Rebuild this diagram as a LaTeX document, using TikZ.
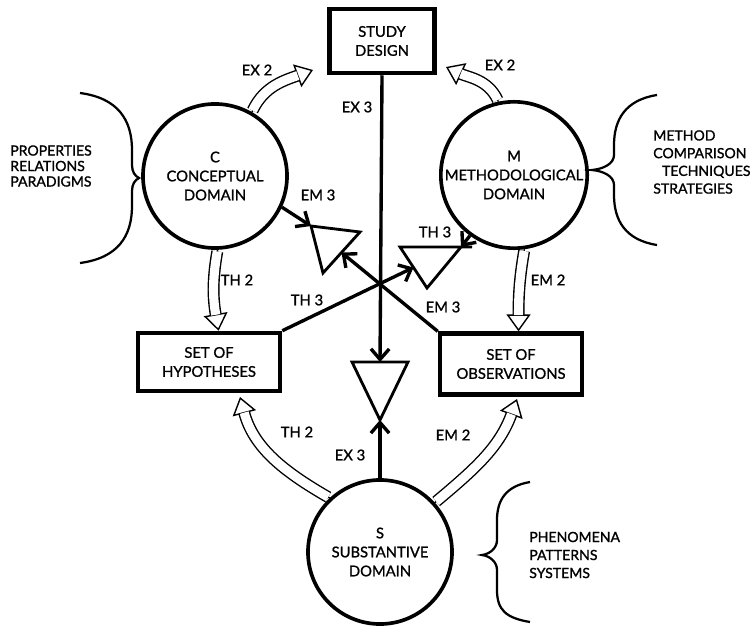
\documentclass[tikz,border=0pt]{standalone}
\usepackage{fontspec}
\setmainfont{Lato}[FakeBold=1.2]
\usetikzlibrary{arrows.meta}
\begin{document}
\begin{tikzpicture}[x=0.025cm, y=-0.025cm, font=\fontsize{10.5}{13.5}\selectfont]
		% Styles
		\tikzstyle{dom} = [circle, minimum size=3.6cm, inner sep=0pt, align=center, draw=black, line width=2.6pt]
		\tikzstyle{box} = [rectangle, align=center, draw=black, line width=3.2pt, inner sep=0pt]
		\tikzstyle{lbl} = [inner sep=1pt]
		\tikzstyle{side} = [anchor=west, align=left, inner sep=0pt, font=\fontsize{10}{11}\selectfont]
		\tikzstyle{arrow} = [line width=2.4pt, -{Straight Barb[length=7.5pt, width=13pt]}]
		\tikzstyle{tri} = [line width=2pt, line join=miter]
		\tikzstyle{hollow} = [line width=1pt, -{Triangle[open, fill=white, length=12pt, width=17pt]}, postaction={draw, -, double, double distance=6.5pt, shorten <=1.2pt, shorten >=11.5pt}]
		\tikzstyle{bracket} = [line width=1.6pt]
		\useasboundingbox (0,0) rectangle (753,629);
		% Nodes
		\node (design) [box, minimum width=2.62cm, minimum height=1.6cm] at (382,41) {STUDY\\DESIGN};
		\node (C) [dom] at (215,176) {C\\CONCEPTUAL\\DOMAIN};
		\node (M) [dom] at (514,175) {M\\METHODOLOGICAL\\DOMAIN};
		\node (S) [dom] at (380,552) {S\\SUBSTANTIVE\\DOMAIN};
		\node (hyp) [box, minimum width=3.55cm, minimum height=1.45cm] at (209,362) {SET OF\\HYPOTHESES};
		\node (obs) [box, minimum width=3.55cm, minimum height=1.52cm] at (511,364) {SET OF\\OBSERVATIONS};
		\node (concepts) [side] at (10,166) {PROPERTIES\\RELATIONS\\PARADIGMS};
		\node (methods) [side, font=\fontsize{10}{12.6}\selectfont] at (653,162) {METHOD\\COMPARISON\\\hspace*{0.22cm}TECHNIQUES\\STRATEGIES};
		\node (phenomena) [side, font=\fontsize{10}{12.8}\selectfont] at (529,555) {PHENOMENA\\PATTERNS\\SYSTEMS};
		% Junctions
		\coordinate (em1) at (311,226);
		\coordinate (em2) at (360,232);
		\coordinate (em3) at (323,273);
		\coordinate (emin) at (341.5,252.5);
		\coordinate (th1) at (400,247);
		\coordinate (th2) at (461,247);
		\coordinate (thx) at (472,247);
		\coordinate (th3) at (427,288);
		\coordinate (thin) at (413.5,267.5);
		\coordinate (ex1) at (352,362);
		\coordinate (ex2) at (408,362);
		\coordinate (ex3) at (380,420);
		\coordinate (exin) at (380,362);
		\coordinate (ex2l) at (313,70);
		\coordinate (ex2r) at (446,67);
		\coordinate (th2l) at (240,397);
		\coordinate (em2l) at (517,399);
		\draw [tri] (em1) -- (em2) -- (em3) -- cycle;
		\draw [tri] (thx) -- (th1) -- (th3) -- (th2);
		\draw [tri] (ex1) -- (ex2) -- (ex3) -- cycle;
		% Arrows
		\draw [arrow] (design.south) -- (exin);
		\draw [arrow] (S.north) -- (ex3);
		\draw [arrow] (hyp.north east) -- (thin);
		\draw [arrow] (obs.north west) -- (emin);
		\draw [arrow] (C.-25) -- (em1);
		\draw [arrow] (M.-126) -- (th2);
		\draw [hollow] (C.60) to[out=65, in=200] (ex2l);
		\draw [hollow] (M.102) to[out=115, in=-25] (ex2r);
		\draw [hollow] (C.-88) to[out=-100, in=100] (hyp.73);
		\draw [hollow] (M.-82) to[out=-100, in=90] (obs.77);
		\draw [hollow] (S.133) to[out=150, in=-75] (th2l);
		\draw [hollow] (S.42) to[out=40, in=-110] (em2l);
		% Braces
		\draw [bracket] (80,93) .. controls (118,98) and (132,120) .. (132,150) -- (132,165) .. controls (132,172) and (135,176) .. (139,178) .. controls (135,180) and (132,184) .. (132,191) -- (132,206) .. controls (132,236) and (118,258) .. (80,263);
		\draw [bracket] (657,95) .. controls (625,100) and (614,120) .. (614,145) -- (614,155) .. controls (614,164) and (603,169) .. (592,170) .. controls (603,171) and (614,176) .. (614,185) -- (614,195) .. controls (614,220) and (625,240) .. (657,245);
		\draw [bracket] (530,482) .. controls (506,486) and (497,500) .. (497,520) -- (497,540) .. controls (497,548) and (490,554) .. (482,555) .. controls (490,556) and (497,562) .. (497,570) -- (497,590) .. controls (497,610) and (506,618) .. (530,622);
		% Labels
		\node (lex2a) [lbl] at (257,70) {EX 2};
		\node (lex3a) [lbl] at (357,107) {EX 3};
		\node (lex2b) [lbl] at (500,65) {EX 2};
		\node (lem3a) [lbl] at (318,195) {EM 3};
		\node (lth3a) [lbl] at (435,232) {TH 3};
		\node (lth3b) [lbl] at (307,300) {TH 3};
		\node (lem3b) [lbl] at (443,307) {EM 3};
		\node (lth2a) [lbl] at (237,280) {TH 2};
		\node (lem2a) [lbl] at (548,280) {EM 2};
		\node (lth2b) [lbl] at (297,432) {TH 2};
		\node (lem2b) [lbl] at (453,435) {EM 2};
		\node (lex3b) [lbl] at (350,455) {EX 3};
	\end{tikzpicture}
\end{document}
